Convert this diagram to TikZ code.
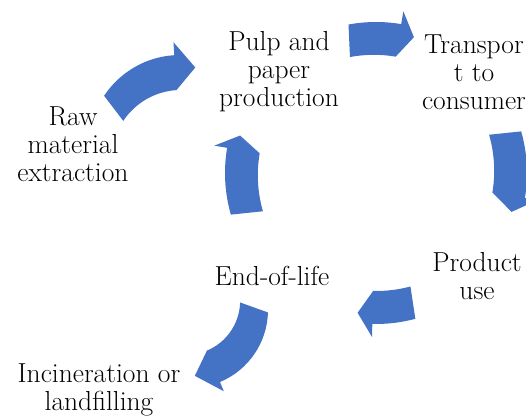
\documentclass[tikz,border=0pt]{standalone}
\usepackage{tikz}

% block arrow along a circle: centre, radius, shaft width, head half width,
% start angle, head base angle, tip angle
\newcommand{\cyclearrow}[7]{%
  \fill[arrowblue, shift={#1}]
    (#5:#2+#3/2) arc[start angle=#5, end angle=#6, radius=#2+#3/2]
    -- (#6:#2+#4) -- (#7:#2) -- (#6:#2-#4)
    arc[start angle=#6, end angle=#5, radius=#2-#3/2] -- cycle;}

\begin{document}
\begin{tikzpicture}[x=1pt, y=1pt,
    stage/.style={font=\fontsize{27.5}{28}\selectfont, align=center, inner sep=0pt}]
  % Colour of the cycle arrows
  \definecolor{arrowblue}{HTML}{4472C4}

  % Page frame
  \useasboundingbox (0,0) rectangle (526,416);
  \clip (0,0) rectangle (526,416);

  % Stages of the life cycle
  \node[stage] (raw) at (73,272) {Raw\\material\\extraction};
  \node[stage] (pulp) at (279,344) {Pulp and\\paper\\production};
  \node[stage] (transport) at (474,344) {Transpor\\t to\\consumer};
  \node[stage] (use) at (477,140) {Product\\use};
  \node[stage] (end) at (272,140) {End-of-life};
  \node[stage] (waste) at (99,26) {Incineration or\\landfilling};

  % Feed into the cycle
  \cyclearrow{(180,270)}{80}{22}{24}{146.5}{93.6}{79}

  % Main cycle
  \cyclearrow{(376,243)}{141}{20}{23}{100.5}{80.4}{74.4}
  \cyclearrow{(376,243)}{141}{20}{23}{16}{-9.5}{-16}
  \cyclearrow{(376,243)}{141}{20}{23}{-74.9}{-91.4}{-97.5}
  \cyclearrow{(376,243)}{141}{20}{23}{196}{170.4}{164.6}

  % Way out of the cycle
  \cyclearrow{(190,106)}{66}{24}{22}{-1.8}{-67.4}{-85.8}
\end{tikzpicture}
\end{document}
